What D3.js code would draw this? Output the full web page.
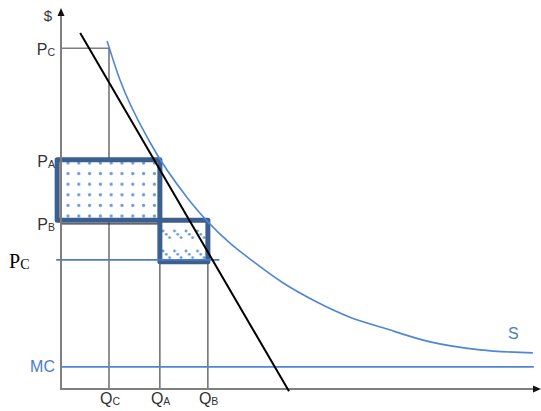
<!DOCTYPE html>
<html>
<head>
<meta charset="utf-8">
<script src="https://cdn.jsdelivr.net/npm/d3@7"></script>
<style>
body { margin: 0; background: #fff; }
svg { display: block; }
</style>
</head>
<body>
<script>
// valeurs (unites arbitraires 0..100)
var sCurve = [[9.6, 91.6], [12.3, 81.3], [18.5, 65], [26.7, 49.7], [35.2, 38.4], [39.4, 34.2],
	[46.3, 27.9], [53.3, 22.9], [60.2, 18.9], [67.1, 16.1], [76.9, 12.4], [87.3, 10.3], [98.3, 9.5]];
var demand = [[4, 93.7], [47.5, -0.6]];
var qNames = ["C", "A", "B"];
var qValues = [10, 20.6, 30.6];
var pNames = ["C", "A", "B"];
var pValues = [89.7, 60.3, 44.4];
var pc2 = 34;
var mc = 5.8;
var rectA = {q0: -0.8, q1: 20.6, p0: 44.4, p1: 60.3};
var rectB = {q0: 20.6, q1: 30.6, p0: 33.5, p1: 44.4};

var width = 541, height = 411;
var blue = "#4f86d6", dark = "#3b5f8e", grey = "#7f7f7f";

var x = d3.scaleLinear().domain([0, 100]).range([61, 541]);
var y = d3.scaleLinear().domain([0, 100]).range([389, 9]);

var svg = d3.select("body").append("svg")
	.attr("width", width)
	.attr("height", height);

var defs = svg.append("defs");
//motif de points pour le premier rectangle
var pd = defs.append("pattern").attr("id", "dots")
	.attr("patternUnits", "userSpaceOnUse")
	.attr("width", 10.8).attr("height", 10.6)
	.attr("x", 62.6).attr("y", 157.7);
pd.append("rect").attr("width", 10.8).attr("height", 10.6).attr("fill", "#fff");
pd.append("circle").attr("cx", 5.4).attr("cy", 5.3).attr("r", 1.6).attr("fill", "#6a98d8");
//motif diagonal pour le second
var pg = defs.append("pattern").attr("id", "diag")
	.attr("patternUnits", "userSpaceOnUse")
	.attr("width", 11.5).attr("height", 20)
	.attr("x", 161).attr("y", 229);
pg.append("rect").attr("width", 11.5).attr("height", 20).attr("fill", "#fff");
[0, 1, 2].forEach(function(i) {
	pg.append("circle").attr("cx", 2 + i * 3.3).attr("cy", 2 + i * 3.3).attr("r", 1.4).attr("fill", "#6a98d8");
});

// lignes grises
svg.append("line")
	.attr("x1", x(0)).attr("x2", x(qValues[0]))
	.attr("y1", y(pValues[0])).attr("y2", y(pValues[0]))
	.attr("stroke", grey).attr("stroke-width", 1.5);
var vTops = [pValues[0], rectA.p0, rectB.p0];
qValues.forEach(function(q, i) {
	svg.append("line")
		.attr("x1", x(q)).attr("x2", x(q))
		.attr("y1", y(vTops[i])).attr("y2", y(0))
		.attr("stroke", "#555").attr("stroke-width", 1.3);
});
// ligne PB
svg.append("line")
	.attr("x1", x(0)).attr("x2", x(rectA.q1))
	.attr("y1", y(pValues[2]) + 3.5).attr("y2", y(pValues[2]) + 3.5)
	.attr("stroke", "#333").attr("stroke-width", 1.2);

// rectangles
[[rectA, "url(#dots)"], [rectB, "url(#diag)"]].forEach(function(r) {
	var d = r[0];
	svg.append("rect")
		.attr("x", x(d.q0)).attr("y", y(d.p1))
		.attr("width", x(d.q1) - x(d.q0)).attr("height", y(d.p0) - y(d.p1))
		.attr("fill", r[1]).attr("stroke", dark).attr("stroke-width", 5)
		.attr("stroke-linejoin", "round");
});

// lignes bleues horizontales
svg.append("line")
	.attr("x1", x(-1)).attr("x2", x(33))
	.attr("y1", y(pc2)).attr("y2", y(pc2))
	.attr("stroke", "#4a7dc4").attr("stroke-width", 1.8);
svg.append("line")
	.attr("x1", x(0)).attr("x2", x(98.5))
	.attr("y1", y(mc)).attr("y2", y(mc))
	.attr("stroke", blue).attr("stroke-width", 1.8);

// courbe S
svg.append("path")
	.datum(sCurve)
	.attr("fill", "none").attr("stroke", blue).attr("stroke-width", 1.6)
	.attr("d", d3.line().x(function(d) { return x(d[0]); }).y(function(d) { return y(d[1]); }).curve(d3.curveMonotoneX));

// axes
svg.append("line").attr("x1", x(0)).attr("x2", x(0)).attr("y1", y(0) + 1).attr("y2", 14)
	.attr("stroke", grey).attr("stroke-width", 2);
svg.append("line").attr("x1", x(0) - 1).attr("x2", 534).attr("y1", y(0)).attr("y2", y(0))
	.attr("stroke", grey).attr("stroke-width", 2);
svg.append("path").attr("d", "M" + x(0) + ",8 L" + (x(0) - 3.5) + ",16 L" + (x(0) + 3.5) + ",16 Z").attr("fill", "#111");
svg.append("path").attr("d", "M541," + y(0) + " L533," + (y(0) - 3.5) + " L533," + (y(0) + 3.5) + " Z").attr("fill", "#111");

// demande
svg.append("line")
	.attr("x1", x(demand[0][0])).attr("y1", y(demand[0][1]))
	.attr("x2", x(demand[1][0])).attr("y2", y(demand[1][1]))
	.attr("stroke", "#000").attr("stroke-width", 2);

// textes
function label(tx, ty, main, sub, opts) {
	opts = opts || {};
	var t = svg.append("text")
		.attr("x", tx).attr("y", ty)
		.attr("text-anchor", opts.anchor || "end")
		.attr("font-family", opts.font || "'Liberation Sans', Arial, sans-serif")
		.attr("font-size", opts.size || 16)
		.attr("fill", opts.color || "#333");
	t.append("tspan").text(main);
	if (sub) t.append("tspan").attr("font-size", opts.subSize || 10.5).attr("dy", opts.dy || 2).text(sub);
	return t;
}
label(52, 21, "$", null, {size: 15, anchor: "end"});
pNames.forEach(function(n, i) {
	var yy = [55, 167, 230][i];
	label(55, yy, "P", n, {dy: 1});
});
label(9, 268, "P", "C", {anchor: "start", font: "'Liberation Serif', 'Times New Roman', serif", size: 20, subSize: 14, dy: 1, color: "#000"});
label(55, 372, "MC", null, {color: "#4a7dc4"});
qValues.forEach(function(q, i) {
	label(x(q) - 9, 404, "Q", qNames[i], {anchor: "start", dy: 1});
});
label(508, 339, "S", null, {anchor: "start", color: "#4a7dc4"});
</script>
</body>
</html>
